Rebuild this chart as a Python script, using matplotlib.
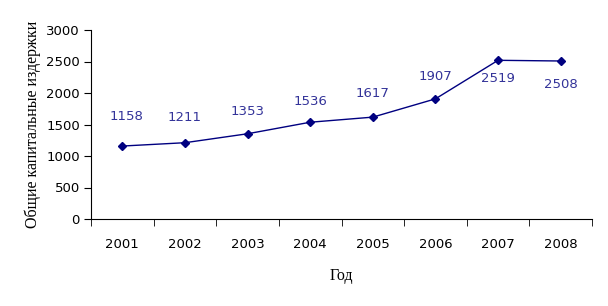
import matplotlib.pyplot as plt

years = ["2001", "2002", "2003", "2004", "2005", "2006", "2007", "2008"]
costs = [1158, 1211, 1353, 1536, 1617, 1907, 2519, 2508]

# label offsets in points (dx, dy)
label_offsets = [(3, 21), (0, 18), (0, 16), (0, 15), (0, 17), (0, 16), (0, -13), (0, -17)]

fig = plt.figure(figsize=(6.08, 3.06), dpi=100)
ax = fig.add_axes([91 / 608, 1 - 219 / 306, 501 / 608, 189 / 306])

x = list(range(len(years)))
ax.plot(x, costs, color="#000080", lw=1, marker="D", ms=4.5)

for i, v in enumerate(costs):
    dx, dy = label_offsets[i]
    ax.annotate(str(v), (i, v), xytext=(dx, dy), textcoords="offset points",
                ha="center", va="center", color="#333399", fontsize=9.5,
                family="DejaVu Sans")

ax.set_xlim(-0.5, len(years) - 0.5)
ax.set_ylim(0, 3000)
ax.set_yticks(range(0, 3001, 500))
ax.set_xticks(x)
ax.set_xticklabels(years)
ax.set_xticks([i - 0.5 for i in range(len(years) + 1)], minor=True)
ax.tick_params(axis="x", which="major", length=0, pad=14)
ax.tick_params(axis="x", which="minor", length=5, direction="out")
ax.tick_params(axis="y", length=5, direction="out", pad=3)
for lbl in ax.get_xticklabels() + ax.get_yticklabels():
    lbl.set_fontsize(9.5)
    lbl.set_family("DejaVu Sans")

for s in ["top", "right"]:
    ax.spines[s].set_visible(False)

ax.set_xlabel("Год", family="Liberation Serif", fontsize=11.5, labelpad=12)
ax.set_ylabel("Общие капитальные издержки", family="Liberation Serif", fontsize=11.5, labelpad=4)

fig.savefig("out.png", dpi=100)
